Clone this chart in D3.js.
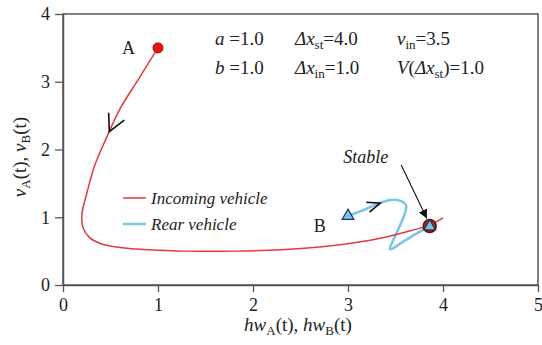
<!DOCTYPE html>
<html>
<head>
<meta charset="utf-8">
<script src="https://cdn.jsdelivr.net/npm/d3@7"></script>
<style>
  body { margin: 0; background: #fff; }
  svg text { fill: #222; }
</style>
</head>
<body>
<div class="box"></div>
<script>
// Trajectory of the incoming vehicle A (headway, velocity)
const incomingHw = [1.0, 0.8, 0.6, 0.45, 0.33, 0.25, 0.2, 0.21, 0.28, 0.4, 0.6, 0.9, 1.3, 1.8, 2.3, 2.7, 3.0, 3.3, 3.6, 3.85, 4.0];
const incomingV  = [3.5, 3.05, 2.6, 2.15, 1.75, 1.35, 1.05, 0.85, 0.7, 0.61, 0.555, 0.52, 0.5, 0.5, 0.52, 0.56, 0.61, 0.68, 0.78, 0.88, 0.99];

// Trajectory of the rear vehicle B
const rearHw = [3.0, 3.15, 3.3, 3.43, 3.53, 3.61, 3.6, 3.56, 3.5, 3.44, 3.47, 3.58, 3.72, 3.85];
const rearV  = [1.02, 1.1, 1.19, 1.25, 1.25, 1.18, 1.06, 0.92, 0.73, 0.53, 0.54, 0.64, 0.76, 0.86];

const xTicks = [0, 1, 2, 3, 4, 5];
const yTicks = [0, 1, 2, 3, 4];

const stablePoint = [3.86, 0.87];

const w = 542;
const h = 345;

const svg = d3.select(".box")
    .append("svg")
    .attr("width", w)
    .attr("height", h)
    .attr("font-family", "Liberation Serif");

const xScale = d3.scaleLinear().domain([0, 5]).range([63, 538]);
const yScale = d3.scaleLinear().domain([0, 4]).range([285, 14]);

const incoming = incomingHw.map((d, i) => [d, incomingV[i]]);
const rear = rearHw.map((d, i) => [d, rearV[i]]);

// FRAME
svg.append("rect")
    .attr("x", xScale(0))
    .attr("y", yScale(4))
    .attr("width", xScale(5) - xScale(0))
    .attr("height", yScale(0) - yScale(4))
    .attr("fill", "none")
    .attr("stroke", "#555")
    .attr("stroke-width", 1.5);

// AXES
const xAxis = d3.axisBottom(xScale).tickValues(xTicks).tickFormat(d3.format("d"))
    .tickSize(7).tickSizeOuter(0).tickPadding(4);
const yAxis = d3.axisLeft(yScale).tickValues(yTicks).tickFormat(d3.format("d"))
    .tickSize(8).tickSizeOuter(0).tickPadding(5);

const gx = svg.append("g")
    .attr("transform", "translate(0," + yScale(0) + ")")
    .call(xAxis);
const gy = svg.append("g")
    .attr("transform", "translate(" + xScale(0) + ",0)")
    .call(yAxis);

[gx, gy].forEach(g => {
    g.attr("font-family", "Liberation Serif").attr("font-size", 18);
    g.select(".domain").attr("stroke", "#555").attr("stroke-width", 1.5);
    g.selectAll(".tick line").attr("stroke", "#555").attr("stroke-width", 1.3);
    g.selectAll(".tick text").attr("fill", "#222");
});
gx.selectAll(".tick text").attr("dy", "0.85em");

// AXIS NAMES
const xLabel = svg.append("text")
    .attr("x", 298)
    .attr("y", 331)
    .attr("text-anchor", "middle")
    .style("font-size", "19px");
xLabel.append("tspan").style("font-style", "italic").text("hw");
xLabel.append("tspan").attr("dy", 4).style("font-size", "13px").text("A");
xLabel.append("tspan").attr("dy", -4).text("(t), ");
xLabel.append("tspan").style("font-style", "italic").text("hw");
xLabel.append("tspan").attr("dy", 4).style("font-size", "13px").text("B");
xLabel.append("tspan").attr("dy", -4).text("(t)");

const yLabel = svg.append("text")
    .attr("transform", "translate(26,157) rotate(-90)")
    .attr("text-anchor", "middle")
    .style("font-size", "19px");
yLabel.append("tspan").style("font-style", "italic").text("v");
yLabel.append("tspan").attr("dy", 4).style("font-size", "13px").text("A");
yLabel.append("tspan").attr("dy", -4).text("(t), ");
yLabel.append("tspan").style("font-style", "italic").text("v");
yLabel.append("tspan").attr("dy", 4).style("font-size", "13px").text("B");
yLabel.append("tspan").attr("dy", -4).text("(t)");

// CURVES
const line = d3.line()
    .x(d => xScale(d[0]))
    .y(d => yScale(d[1]))
    .curve(d3.curveCatmullRom.alpha(0.5));

svg.append("path")
    .datum(rear)
    .attr("d", line)
    .attr("fill", "none")
    .attr("stroke", "#7cc6ec")
    .attr("stroke-width", 2.6)
    .attr("stroke-linejoin", "round");

svg.append("path")
    .datum(incoming)
    .attr("d", line)
    .attr("fill", "none")
    .attr("stroke", "#e33a3e")
    .attr("stroke-width", 1.5);

// DIRECTION CHEVRONS (open arrowheads along the curves)
function chevron(series, i, t, len, spread) {
    const a = series[i], b = series[i + 1];
    const px = xScale(a[0] + (b[0] - a[0]) * t), py = yScale(a[1] + (b[1] - a[1]) * t);
    const ang = Math.atan2(yScale(b[1]) - yScale(a[1]), xScale(b[0]) - xScale(a[0]));
    const back = ang + Math.PI;
    const s = spread * Math.PI / 180;
    const p1 = [px + len * Math.cos(back - s), py + len * Math.sin(back - s)];
    const p2 = [px + len * Math.cos(back + s), py + len * Math.sin(back + s)];
    svg.append("path")
        .attr("d", "M" + p1 + "L" + [px, py] + "L" + p2)
        .attr("fill", "none")
        .attr("stroke", "#111")
        .attr("stroke-width", 1.6);
}
chevron(incoming, 2, 0.75, 19, 27);
chevron(rear, 2, 0.3, 14, 22);

// STABLE ARROW
svg.append("defs").append("marker")
    .attr("id", "head")
    .attr("viewBox", "0 0 10 10")
    .attr("refX", 10).attr("refY", 5)
    .attr("markerWidth", 9).attr("markerHeight", 9)
    .attr("markerUnits", "userSpaceOnUse")
    .attr("orient", "auto")
    .append("path")
    .attr("d", "M0,0L10,5L0,10z")
    .attr("fill", "#111");

svg.append("line")
    .attr("x1", xScale(3.56)).attr("y1", yScale(1.77))
    .attr("x2", xScale(3.83)).attr("y2", yScale(0.98))
    .attr("stroke", "#111")
    .attr("stroke-width", 1.1)
    .attr("marker-end", "url(#head)");

svg.append("text")
    .attr("x", xScale(2.95))
    .attr("y", yScale(1.8))
    .style("font-size", "18px")
    .style("font-style", "italic")
    .text("Stable");

// POINTS
const tri = d3.symbol().type(d3.symbolTriangle).size(60);

svg.append("circle")
    .attr("cx", xScale(stablePoint[0]))
    .attr("cy", yScale(stablePoint[1]))
    .attr("r", 6.5)
    .attr("fill", "#c8181e")
    .attr("stroke", "#5a1014")
    .attr("stroke-width", 1.5);

svg.append("path")
    .attr("d", tri)
    .attr("transform", "translate(" + xScale(stablePoint[0]) + "," + (yScale(stablePoint[1]) + 0.5) + ")")
    .attr("fill", "#72c2ea")
    .attr("stroke", "#1c3550")
    .attr("stroke-width", 1.2);

svg.append("circle")
    .attr("cx", xScale(incoming[0][0]))
    .attr("cy", yScale(incoming[0][1]))
    .attr("r", 5)
    .attr("fill", "#f01010")
    .attr("stroke", "#8a1010")
    .attr("stroke-width", 1);

svg.append("path")
    .attr("d", tri)
    .attr("transform", "translate(" + xScale(rear[0][0]) + "," + yScale(rear[0][1]) + ")")
    .attr("fill", "#72c2ea")
    .attr("stroke", "#1c3550")
    .attr("stroke-width", 1.2);

svg.append("text")
    .attr("x", xScale(0.62)).attr("y", yScale(3.5) + 6)
    .style("font-size", "18px")
    .text("A");
svg.append("text")
    .attr("x", xScale(2.64)).attr("y", yScale(1.02) + 16)
    .style("font-size", "18px")
    .text("B");

// PARAMETERS
const params = svg.append("g").style("font-size", "19px");

function param(x, y, parts) {
    const t = params.append("text").attr("x", x).attr("y", y);
    parts.forEach(p => {
        const s = t.append("tspan").text(p.t);
        if (p.i) s.style("font-style", "italic");
        if (p.sub) s.attr("dy", 4).style("font-size", "13px");
        if (p.up) s.attr("dy", -4);
    });
}
param(215, 45, [{t: "a", i: true}, {t: " =1.0"}]);
param(215, 74, [{t: "b", i: true}, {t: " =1.0"}]);
param(295, 45, [{t: "Δx", i: true}, {t: "st", sub: true}, {t: "=4.0", up: true}]);
param(295, 74, [{t: "Δx", i: true}, {t: "in", sub: true}, {t: "=1.0", up: true}]);
param(397, 45, [{t: "v", i: true}, {t: "in", sub: true}, {t: "=3.5", up: true}]);
param(397, 74, [{t: "V", i: true}, {t: "("}, {t: "Δx", i: true}, {t: "st", sub: true}, {t: ")=1.0", up: true}]);

// LEGEND
const legendItems = ["Incoming vehicle", "Rear vehicle"];
const legendColors = ["#e33a3e", "#7cc6ec"];
const legend = svg.append("g");

legend.selectAll("line")
    .data(legendItems)
    .enter()
    .append("line")
    .attr("x1", 123).attr("x2", 146)
    .attr("y1", (d, i) => 198 + i * 26)
    .attr("y2", (d, i) => 198 + i * 26)
    .attr("stroke", (d, i) => legendColors[i])
    .attr("stroke-width", (d, i) => i ? 2.6 : 1.5);

legend.selectAll("text")
    .data(legendItems)
    .enter()
    .append("text")
    .attr("x", 151)
    .attr("y", (d, i) => 204 + i * 26)
    .style("font-size", "17px")
    .style("font-style", "italic")
    .text(d => d);
</script>
</body>
</html>
